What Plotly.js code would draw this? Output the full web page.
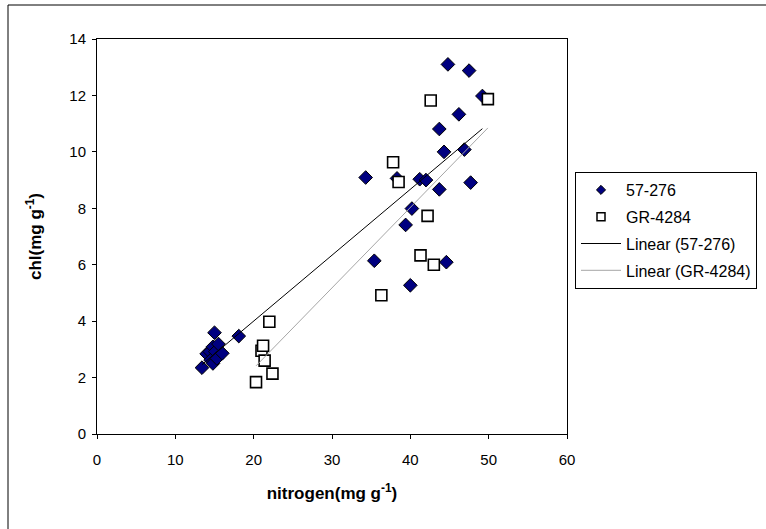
<!DOCTYPE html>
<html><head><meta charset="utf-8">
<script src="https://cdn.plot.ly/plotly-3.0.1.min.js"></script>
<style>html,body{margin:0;padding:0;background:#fff}</style>
</head><body><div id="chart" style="width:766px;height:529px"></div>
<script>
const nameA = '57-276';
const nameB = 'GR-4284';
const xA = [13.4, 14.0, 14.4, 14.5, 14.8, 14.8, 15.0, 15.1, 15.3, 15.5, 16.0, 18.1, 34.3, 35.4, 38.3, 39.4, 40.0, 40.2, 41.2, 42.0, 43.7, 43.7, 44.3, 44.6, 44.8, 46.2, 46.9, 47.5, 47.7, 49.2];
const yA = [2.35, 2.84, 2.92, 2.62, 2.5, 3.09, 3.59, 2.92, 2.68, 3.19, 2.86, 3.47, 9.09, 6.14, 9.06, 7.41, 5.27, 7.99, 9.03, 9.0, 10.81, 8.67, 10.0, 6.09, 13.1, 11.33, 10.08, 12.88, 8.91, 11.98];
const xB = [20.3, 21.0, 21.2, 21.4, 22.0, 22.4, 36.3, 37.8, 38.5, 41.3, 42.2, 42.6, 43.0, 49.9];
const yB = [1.84, 2.95, 3.13, 2.6, 3.98, 2.14, 4.92, 9.63, 8.93, 6.33, 7.73, 11.82, 6.0, 11.87];
const xTicks = [0, 10, 20, 30, 40, 50, 60];
const yTicks = [0, 2, 4, 6, 8, 10, 12, 14];

function linfit(xs, ys) {
  const n = xs.length;
  let sx = 0, sy = 0, sxx = 0, sxy = 0;
  for (let i = 0; i < n; i++) { sx += xs[i]; sy += ys[i]; sxx += xs[i]*xs[i]; sxy += xs[i]*ys[i]; }
  const b = (n*sxy - sx*sy) / (n*sxx - sx*sx);
  const a = (sy - b*sx) / n;
  const x0 = Math.min(...xs), x1 = Math.max(...xs);
  return {x: [x0, x1], y: [a + b*x0, a + b*x1]};
}
const fA = linfit(xA, yA), fB = linfit(xB, yB);

const mA = {symbol: 'diamond', color: '#000080', line: {color: '#000000', width: 1}};
const mB = {symbol: 'square', color: '#ffffff', line: {color: '#000000', width: 1.6}};

const traces = [
  {x: xA, y: yA, type: 'scatter', mode: 'markers', name: nameA, showlegend: false,
   marker: Object.assign({size: 10.5}, mA)},
  {x: xB, y: yB, type: 'scatter', mode: 'markers', name: nameB, showlegend: false,
   marker: Object.assign({size: 11}, mB)},
  {x: fA.x, y: fA.y, type: 'scatter', mode: 'lines', name: 'Linear (' + nameA + ')', showlegend: false,
   line: {color: '#000000', width: 1}},
  {x: fB.x, y: fB.y, type: 'scatter', mode: 'lines', name: 'Linear (' + nameB + ')', showlegend: false,
   line: {color: '#a6a6a6', width: 1}},
  // legend entries (no data of their own)
  {x: [null], y: [null], type: 'scatter', mode: 'markers', name: nameA, legendgroup: 'a',
   marker: Object.assign({size: 7}, mA)},
  {x: [null], y: [null], type: 'scatter', mode: 'markers', name: nameB, legendgroup: 'b',
   marker: Object.assign({size: 8}, mB, {line: {color: '#000', width: 1.5}})},
  {x: [null], y: [null], type: 'scatter', mode: 'lines', name: 'Linear (' + nameA + ')', legendgroup: 'c',
   line: {color: '#000000', width: 1}},
  {x: [null], y: [null], type: 'scatter', mode: 'lines', name: 'Linear (' + nameB + ')', legendgroup: 'd',
   line: {color: '#a6a6a6', width: 1}}
];

const F = 'Arial, "Liberation Sans", sans-serif';
const layout = {
  width: 766, height: 529,
  margin: {l: 97, r: 199, t: 39, b: 95, pad: 0, autoexpand: false},
  paper_bgcolor: '#ffffff', plot_bgcolor: '#ffffff',
  font: {family: F, size: 15, color: '#000'},
  showlegend: true,
  legend: {x: (575-97)/470, y: (434-172)/395, xanchor: 'left', yanchor: 'top', bordercolor: '#000', borderwidth: 1,
           bgcolor: '#fff', font: {family: F, size: 16}, traceorder: 'grouped', tracegroupgap: 3,
           itemwidth: 40},
  xaxis: {range: [0, 60], tickvals: xTicks, ticktext: xTicks.map(String), showgrid: false, zeroline: false,
          showline: true, linecolor: '#000', linewidth: 1, mirror: true,
          ticks: 'outside', ticklen: 4, tickcolor: '#000', tickfont: {family: F, size: 15},
          ticklabelstandoff: 8,
          title: {text: 'nitrogen(mg g<sup>-1</sup>)', font: {family: F, size: 17, weight: 'bold'}, standoff: 20}},
  yaxis: {range: [0, 14], tickvals: yTicks, ticktext: yTicks.map(String), showgrid: false, zeroline: false,
          showline: true, linecolor: '#000', linewidth: 1, mirror: true,
          ticks: 'outside', ticklen: 4, tickcolor: '#000', tickfont: {family: F, size: 15},
          ticklabelstandoff: 3,
          title: {text: 'chl(mg g<sup>-1</sup>)', font: {family: F, size: 17, weight: 'bold'}, standoff: 23}},
  shapes: [
    {type: 'rect', xref: 'paper', yref: 'paper', x0: (8-97)/470, x1: (775-97)/470,
     y0: (434-540)/395, y1: (434-5)/395, line: {color: '#000', width: 1}, layer: 'below'}
  ]
};
Plotly.newPlot('chart', traces, layout, {displayModeBar: false, staticPlot: true});
</script></body></html>
